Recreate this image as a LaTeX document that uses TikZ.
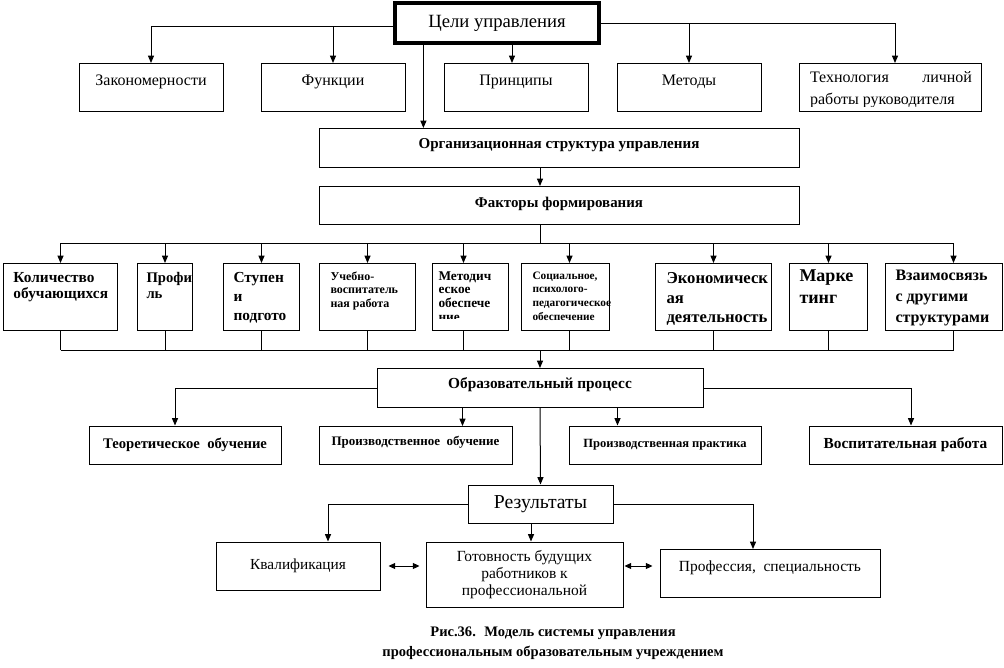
\documentclass[tikz,border=0pt]{standalone}
\usepackage{fontspec}
\setmainfont{Liberation Serif}
\usetikzlibrary{arrows.meta}
\tikzstyle{rbox}=[draw, line width=0.75pt, inner sep=0pt]
\tikzstyle{lvlbox}=[rbox, anchor=north, text height=16.5pt, text depth=19.5pt]
\tikzstyle{ftxt}=[anchor=north west, inner sep=0pt, align=left]
\tikzstyle{arr}=[-{Triangle[length=5.5pt,width=4.5pt]}]
\tikzstyle{darr}=[{Triangle[length=5pt,width=4.5pt]}-{Triangle[length=5pt,width=4.5pt]}]

\begin{document}
\begin{tikzpicture}[x=0.75pt,y=-0.75pt,line width=0.75pt]
\def\fs#1#2{\fontsize{#1}{#2}\selectfont}
\useasboundingbox (0,0) rectangle (1004,668);

% goals and first level
\node[rbox, line width=2.4pt, minimum width=153pt, minimum height=30pt, font=\fs{14}{16}] (goal) at (497,23) {Цели управления};
\node[lvlbox, minimum width=108pt, font=\fs{12}{14}] (zak) at (151,63) {Закономерности};
\node[lvlbox, minimum width=108pt, font=\fs{12}{14}] (fun) at (333,63) {Функции};
\node[lvlbox, minimum width=108pt, font=\fs{12}{14}] (pri) at (516,63) {Принципы};
\node[lvlbox, minimum width=108pt, font=\fs{12}{14}] (met) at (689,63) {Методы};
\node[rbox, anchor=north, minimum width=136.5pt, minimum height=36pt] (tech) at (890,63) {};
\begin{scope}
\clip (tech.north west) rectangle ([shift={(0,-6)}]tech.south east);
\node[ftxt, font=\fs{12}{16.5}] (techt) at ([shift={(11,8)}]tech.north west) {\makebox[121.5pt]{Технология\hfill личной}\\работы руководителя};
\end{scope}

\coordinate (gl) at ([yshift=-2.25pt]goal.west);
\coordinate (gs) at ([shift={(30,0)}]goal.south west);
\draw[arr] (gl) -| (zak.north);
\draw[arr] (fun.north |- gl) -- (fun.north);
\draw[arr] ([shift={(-4,0)}]pri.north |- goal.south) -- ([shift={(-4,0)}]pri.north);
\draw[arr] (met.north |- goal.east) -- (met.north);
\draw[arr] (goal.east) -| ([shift={(5,0)}]tech.north);

% structure
\node[rbox, anchor=north, minimum width=360pt, text height=15pt, text depth=14.25pt, font=\bfseries\fs{11.3}{13}] (org) at (559,128) {Организационная структура управления};
\node[rbox, anchor=north, minimum width=360pt, text height=15.75pt, text depth=12.75pt, font=\bfseries\fs{11.2}{13}] (fact) at (559,186) {Факторы формирования};
\node[rbox, anchor=north, minimum width=244.5pt, text height=15pt, text depth=14.25pt, font=\bfseries\fs{11.5}{13}] (edu) at (540,368) {Образовательный процесс};
\draw[arr] (gs) -- (gs |- org.north);
\draw[arr] (org.south -| edu) -- (fact.north -| edu);

% factors
\foreach \nm/\xl/\w in {f1/3/114, f2/137/55, f3/223/76, f4/319/96, f5/432/76, f6/521/88, f7/655/116, f8/789/78, f9/885/117}
  \node[rbox, anchor=north west, minimum width=\w*0.75pt, minimum height=50.25pt] (\nm) at (\xl,263) {};

\node[ftxt, font=\bfseries\fs{11.5}{12}] (f1t) at ([shift={(10,9)}]f1.north west) {Количество\\обучающихся};
\node[ftxt, font=\bfseries\fs{11}{12}] (f2t) at ([shift={(9,9)}]f2.north west) {Профи\\ль};
\node[ftxt, font=\bfseries\fs{11.5}{14.25}] (f3t) at ([shift={(10,9)}]f3.north west) {Ступен\\и\\подгото};
\node[ftxt, font=\bfseries\fs{9}{10.2}] (f4t) at ([shift={(11,8)}]f4.north west) {Учебно-\\воспитатель\\ная работа};
\begin{scope}
\clip (f5.north west) rectangle ([shift={(0,-13)}]f5.south east);
\node[ftxt, font=\bfseries\fs{10}{10.3}] (f5t) at ([shift={(6,8)}]f5.north west) {Методич\\еское\\обеспече\\ние};
\end{scope}
\begin{scope}
\clip (f6.north west) rectangle ([shift={(0,-11)}]f6.south east);
\node[ftxt, font=\bfseries\fs{8.5}{10.3}] (f6t) at ([shift={(11,8)}]f6.north west) {Социальное,\\психолого-\\педагогическое\\обеспечение};
\end{scope}
\node[ftxt, font=\bfseries\fs{12.5}{14.6}] (f7t) at ([shift={(11,9)}]f7.north west) {Экономическ\\ая\\деятельность};
\node[ftxt, font=\bfseries\fs{13.5}{16.5}] (f8t) at ([shift={(10,6)}]f8.north west) {Марке\\тинг};
\node[ftxt, font=\bfseries\fs{12}{15.4}] (f9t) at ([shift={(10,7)}]f9.north west) {Взаимосвязь\\с другими\\структурами};

\foreach \i/\d in {1/0,2/0,3/0,4/0,5/-7,6/4,7/0,8/0,9/9.5} {
  \coordinate (t\i) at ([shift={(\d,-20)}]f\i.north);
  \coordinate (b\i) at ([shift={(\d,19)}]f\i.south);
  \draw[arr] (t\i) -- (t\i |- f\i.north);
  \draw (b\i |- f\i.south) -- (b\i);
}
\draw (t1) -- (t9);
\draw (b1) -- (b9);
\draw (fact.south -| edu) -- (t1 -| edu);
\draw[arr] (b1 -| edu) -- (edu.north);

% educational process
\node[rbox, minimum width=144pt, minimum height=28.5pt, font=\bfseries\fs{11}{13}] (th) at (185,445) {Теоретическое~ обучение};
\node[rbox, anchor=north, minimum width=144.75pt, text height=14.25pt, text depth=14.25pt, font=\bfseries\fs{9.75}{12}] (pob) at (415.5,426) {Производственное~ обучение};
\node[rbox, minimum width=144pt, minimum height=28.5pt, font=\bfseries\fs{9.4}{12}] (ppr) at (665,445) {Производственная практика};
\node[rbox, minimum width=144.75pt, minimum height=28.5pt, font=\bfseries\fs{11.5}{13}] (vos) at (905.5,445) {Воспитательная работа};
\coordinate (e1) at ([shift={(86,0)}]edu.south west);
\coordinate (e2) at ([shift={(-86,0)}]edu.south east);
\draw[arr] (edu.west) -| ([shift={(-10,0)}]th.north);
\draw[arr] (e1) -- (e1 |- pob.north);
\draw[arr] (e2) -- (e2 |- ppr.north);
\draw[arr] (edu.east) -| ([shift={(5.5,0)}]vos.north);

% results
\node[rbox, minimum width=108.75pt, minimum height=28.5pt, font=\fs{14.8}{17}] (res) at (540.5,504) {Результаты};
\node[rbox, minimum width=123pt, minimum height=36pt, font=\fs{11.5}{14}] (kv) at (298,566) {Квалификация};
\node[rbox, minimum width=147.75pt, minimum height=48.75pt, align=center, font=\fs{11.6}{13}] (got) at (524.5,574.5) {Готовность будущих\\работников к\\профессиональной};
\node[rbox, anchor=north, minimum width=165pt, text height=16.5pt, text depth=19.5pt, font=\fs{11.6}{14}] (prof) at (770,549) {Профессия,~ специальность};
\draw[arr] (edu.south) -- (res.north);
\draw[arr] (res.west) -| ([shift={(30,0)}]kv.north);
\draw[arr] (res.east) -| ([shift={(-17,0)}]prof.north);
\draw[arr] ([shift={(-9.5,0)}]res.south) -- ([shift={(6.5,0)}]got.north);
\draw[darr, shorten <=6pt, shorten >=4.5pt] (kv.east) -- (kv.east -| got.west);
\draw[darr, shorten <=0.75pt, shorten >=5.25pt] (got.east |- kv.east) -- (prof.west |- kv.east);

\node[align=center, font=\bfseries\fs{10.9}{15}] (cap) at (553,643) {Рис.36.~ Модель системы управления\\профессиональным образовательным учреждением};
\end{tikzpicture}
\end{document}
